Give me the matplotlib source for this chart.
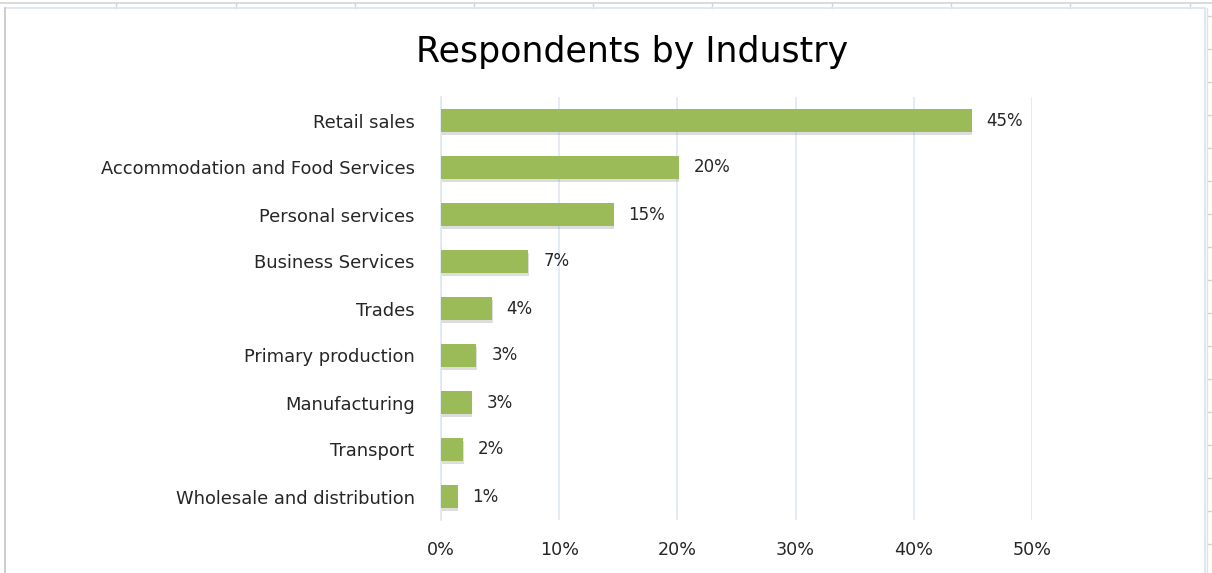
import matplotlib
matplotlib.use("Agg")
import matplotlib.pyplot as plt
from matplotlib.lines import Line2D
from matplotlib import patheffects as pe

# Survey share of respondents per industry (percent)
industries = [
    "Retail sales",
    "Accommodation and Food Services",
    "Personal services",
    "Business Services",
    "Trades",
    "Primary production",
    "Manufacturing",
    "Transport",
    "Wholesale and distribution",
]
shares = [44.9, 20.1, 14.6, 7.4, 4.3, 3.0, 2.6, 1.9, 1.4]
x_ticks = [0, 10, 20, 30, 40, 50]
x_tick_labels = ["0%", "10%", "20%", "30%", "40%", "50%"]

plt.rcParams["font.family"] = ["DejaVu Sans"]

W, H = 1212, 573
fig = plt.figure(figsize=(W / 100, H / 100), dpi=100)
fig.patch.set_facecolor("white")

# spreadsheet cell lines around the chart object
cell_grey = "#d4d4d4"
fig.add_artist(Line2D([0, 1], [1 - 3 / H, 1 - 3 / H], color=cell_grey, lw=1.2))
for xc in [116, 236, 355, 474, 593, 712, 832, 951, 1070, 1190]:
    fig.add_artist(Line2D([xc / W, xc / W], [1 - 3 / H, 1 - 8 / H], color=cell_grey, lw=1.0))
for yc in range(16, H, 33):
    fig.add_artist(Line2D([1207 / W, 1], [1 - yc / H, 1 - yc / H], color=cell_grey, lw=1.0))
fig.add_artist(Line2D([1207 / W, 1207 / W], [0, 1 - 8 / H], color="#e2e2e2", lw=1.0))

# chart object border
border = "#dbe5f1"
fig.add_artist(Line2D([5 / W, 1205 / W], [1 - 8 / H, 1 - 8 / H], color=border, lw=1.3))
fig.add_artist(Line2D([1205 / W, 1205 / W], [0, 1 - 8 / H], color=border, lw=1.3))
fig.add_artist(Line2D([5 / W, 5 / W], [0, 1 - 8 / H], color="#c8c8c8", lw=1.3))

ax = fig.add_axes([441 / W, 1 - 520 / H, (1032 - 441) / W, (520 - 97) / H])

ypos = list(range(len(industries)))
bars = ax.barh(ypos, shares, height=0.5, color="#9bbb59", zorder=3)
for b in bars:
    b.set_path_effects([pe.SimplePatchShadow(offset=(0.5, -2), shadow_rgbFace="#909090", alpha=0.3),
                        pe.Normal()])

for y, v in zip(ypos, shares):
    ax.text(v + 1.25, y, f"{v:.0f}%", va="center", ha="left", fontsize=12, color="#262626")

ax.set_xlim(0, 50)
ax.set_ylim(len(industries) - 0.5, -0.5)
ax.set_yticks(ypos)
ax.set_yticklabels(industries, fontsize=12.9, color="#262626")
ax.set_xticks(x_ticks)
ax.set_xticklabels(x_tick_labels, fontsize=12.6, color="#262626")
ax.tick_params(axis="y", length=0, pad=19)
ax.tick_params(axis="x", length=0, pad=15)

ax.grid(axis="x", color="#dbe5f1", lw=1.1, zorder=0)
ax.set_axisbelow(True)
for s in ["top", "right", "bottom"]:
    ax.spines[s].set_visible(False)
ax.spines["left"].set_color("#dbe5f1")
ax.spines["left"].set_linewidth(1.1)

fig.text(632 / W, 1 - 52 / H, "Respondents by Industry", ha="center", va="center",
         fontsize=25, color="#000000")

fig.savefig("out.png", dpi=100, facecolor="white")
